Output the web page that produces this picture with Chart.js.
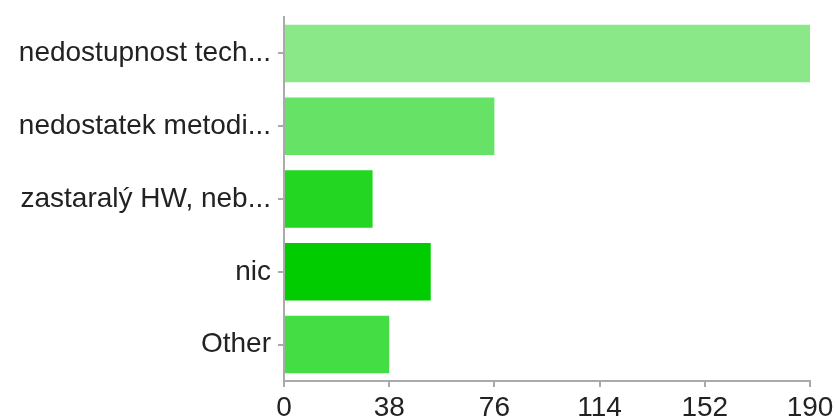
<!DOCTYPE html>
<html>
<head>
<meta charset="utf-8">
<script src="https://cdn.jsdelivr.net/npm/chart.js@4/dist/chart.umd.min.js"></script>
<style>
  html, body { margin: 0; padding: 0; background: #fff; }
  #wrap { width: 835px; height: 417px; }
</style>
</head>
<body>
<div id="wrap"><canvas id="c" width="835" height="417"></canvas></div>
<script>
// Answers and their counts
const categories = ['nedostupnost tech...', 'nedostatek metodi...', 'zastaralý HW, neb...', 'nic', 'Other'];
const counts = [190, 76, 32, 53, 38];
const barColors = ['#8ae888', '#66e266', '#22d622', '#00cc00', '#44dd44'];
const xTicks = [0, 38, 76, 114, 152, 190];

const axisColor = '#aaaaaa';
const textColor = '#222222';
const fontFamily = '"Liberation Sans", Arial, Helvetica, sans-serif';

new Chart(document.getElementById('c'), {
  type: 'bar',
  data: {
    labels: categories,
    datasets: [{
      data: counts,
      backgroundColor: barColors,
      borderWidth: 0,
      barPercentage: 0.79,
      categoryPercentage: 1.0
    }]
  },
  options: {
    indexAxis: 'y',
    responsive: false,
    animation: false,
    layout: { padding: { top: 17, right: 25, left: 0, bottom: 0 } },
    plugins: { legend: { display: false }, tooltip: { enabled: false } },
    scales: {
      x: {
        min: xTicks[0],
        max: xTicks[xTicks.length - 1],
        afterBuildTicks: (scale) => { scale.ticks = xTicks.map(v => ({ value: v })); },
        afterFit: (scale) => {
          scale.height = 36;
          scale.paddingLeft = 0;
          scale.paddingRight = 0;
        },
        border: { display: true, color: axisColor, width: 2 },
        grid: { drawOnChartArea: false, color: axisColor, tickLength: 6, lineWidth: 2 },
        ticks: { color: textColor, font: { family: fontFamily, size: 28 }, padding: 4, maxRotation: 0, autoSkip: false }
      },
      y: {
        afterFit: (scale) => {
          scale.width = 284;
          scale.paddingTop = 0;
          scale.paddingBottom = 0;
        },
        border: { display: true, color: axisColor, width: 2 },
        grid: { drawOnChartArea: false, color: axisColor, tickLength: 6, lineWidth: 2, offset: false },
        ticks: { color: textColor, font: { family: fontFamily, size: 28 }, padding: 7 }
      }
    }
  }
});
</script>
</body>
</html>
